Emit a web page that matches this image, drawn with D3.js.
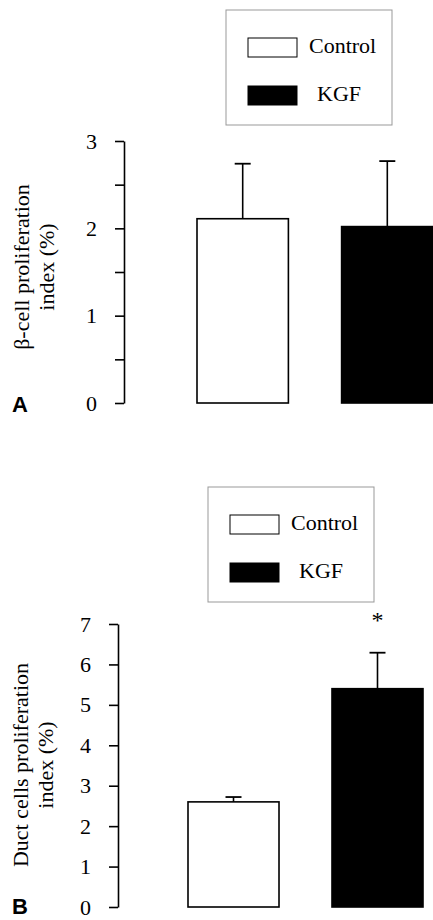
<html>
<head>
<meta charset="utf-8"/>
<script src="https://d3js.org/d3.v7.min.js"></script>
<style type="text/css">
body {
  margin: 0;
  overflow: hidden;
  background: #fff;
}
text {
  font-family: "Liberation Serif", "Times New Roman", serif;
  fill: #000;
}
.panel-letter {
  font-family: "Liberation Sans", Arial, sans-serif;
  font-weight: bold;
}
</style>
</head>
<body>
<div id="v"></div>
<script type="text/javascript">
// data
var groups = ["Control", "KGF"];
var betaMeans = [2.11, 2.02];
var betaSem = [0.63, 0.75];
var ductMeans = [2.6, 5.4];
var ductSem = [0.12, 0.89];
var ductSignificant = [false, true];
var betaTicks = [0, 0.5, 1, 1.5, 2, 2.5, 3];
var ductTicks = [0, 1, 2, 3, 4, 5, 6, 7];
var fills = {"Control": "#fff", "KGF": "#000"};

var width = 433;
var height = 920;

var svg = d3.select("#v").append("svg")
  .attr("width", width)
  .attr("height", height);

function drawPanel(opt) {
  var g = svg.append("g");

  var rows = opt.groups.map(function(d, i) {
    return {name: d, mean: opt.means[i], sem: opt.sem[i], star: opt.star ? opt.star[i] : false};
  });

  var x = d3.scaleBand()
    .domain(opt.groups)
    .range(opt.xRange)
    .paddingInner(0.368)
    .paddingOuter(0);

  var y = d3.scaleLinear()
    .domain(opt.yDomain)
    .range(opt.yRange);

  // axis
  var axis = d3.axisLeft(y)
    .tickValues(opt.ticks)
    .tickSize(9)
    .tickSizeOuter(0)
    .tickPadding(18)
    .tickFormat(function(d) { return d % 1 === 0 ? d : ""; });

  var ax = g.append("g")
    .attr("transform", "translate(" + opt.axisX + ",0)")
    .call(axis);
  ax.select(".domain").attr("stroke", "#000").attr("stroke-width", 1.6);
  ax.selectAll(".tick line").attr("stroke", "#000").attr("stroke-width", 1.6);
  ax.selectAll(".tick text")
    .attr("font-family", "Liberation Serif, Times New Roman, serif")
    .attr("font-size", 22)
    .attr("fill", "#000");

  // error bars (upper half only)
  var err = g.selectAll(".err")
    .data(rows).enter()
    .append("g")
    .attr("class", "err");
  err.append("line")
    .attr("x1", function(d) { return x(d.name) + x.bandwidth() / 2; })
    .attr("x2", function(d) { return x(d.name) + x.bandwidth() / 2; })
    .attr("y1", function(d) { return y(d.mean); })
    .attr("y2", function(d) { return y(d.mean + d.sem); })
    .attr("stroke", "#000")
    .attr("stroke-width", 1.6);
  err.append("line")
    .attr("x1", function(d) { return x(d.name) + x.bandwidth() / 2 - 8; })
    .attr("x2", function(d) { return x(d.name) + x.bandwidth() / 2 + 8; })
    .attr("y1", function(d) { return y(d.mean + d.sem); })
    .attr("y2", function(d) { return y(d.mean + d.sem); })
    .attr("stroke", "#000")
    .attr("stroke-width", 1.8);

  // bars
  g.selectAll(".bar")
    .data(rows).enter()
    .append("rect")
    .attr("class", "bar")
    .attr("x", function(d) { return x(d.name); })
    .attr("width", x.bandwidth())
    .attr("y", function(d) { return y(d.mean); })
    .attr("height", function(d) { return y(0) - y(d.mean); })
    .attr("fill", function(d) { return fills[d.name]; })
    .attr("stroke", "#000")
    .attr("stroke-width", 1.6);

  // significance star
  g.selectAll(".star")
    .data(rows.filter(function(d) { return d.star; })).enter()
    .append("text")
    .attr("class", "star")
    .attr("x", function(d) { return x(d.name) + x.bandwidth() / 2; })
    .attr("y", opt.starY)
    .attr("text-anchor", "middle")
    .attr("font-size", 24)
    .text("*");

  // y label, two lines
  opt.yLabel.forEach(function(line, i) {
    g.append("text")
      .attr("transform", "translate(" + (opt.labelX + i * 25) + "," + opt.labelY + ") rotate(-90)")
      .attr("text-anchor", "middle")
      .attr("font-size", 22)
      .text(line);
  });

  // panel letter
  g.append("text")
    .attr("class", "panel-letter")
    .attr("x", 12)
    .attr("y", opt.letterY)
    .attr("font-size", 22)
    .text(opt.letter);

  // legend
  var lg = g.append("g")
    .attr("transform", "translate(" + opt.legend[0] + "," + opt.legend[1] + ")");
  lg.append("rect")
    .attr("width", 166)
    .attr("height", 115)
    .attr("fill", "#fff")
    .attr("stroke", "#999")
    .attr("stroke-width", 1);
  var item = lg.selectAll(".item")
    .data(opt.groups).enter()
    .append("g")
    .attr("class", "item")
    .attr("transform", function(d, i) { return "translate(22," + (28 + i * 48) + ")"; });
  item.append("rect")
    .attr("width", 49)
    .attr("height", 19)
    .attr("fill", function(d) { return fills[d]; })
    .attr("stroke", "#000")
    .attr("stroke-width", 1);
  item.append("text")
    .attr("x", function(d, i) { return i === 0 ? 61 : 69; })
    .attr("y", 15)
    .attr("font-size", 22)
    .text(function(d) { return d; });
}

drawPanel({
  groups: groups,
  means: betaMeans,
  sem: betaSem,
  ticks: betaTicks,
  yDomain: [0, 3],
  yRange: [403, 141],
  xRange: [197, 433],
  axisX: 124,
  yLabel: ["\u03b2-cell proliferation", "index (%)"],
  labelX: 29,
  labelY: 267,
  letter: "A",
  letterY: 412,
  legend: [226, 10]
});

drawPanel({
  groups: groups,
  means: ductMeans,
  sem: ductSem,
  star: ductSignificant,
  starY: 628,
  ticks: ductTicks,
  yDomain: [0, 7],
  yRange: [907, 624],
  xRange: [188, 423],
  axisX: 118,
  yLabel: ["Duct cells proliferation", "index (%)"],
  labelX: 28,
  labelY: 765,
  letter: "B",
  letterY: 914,
  legend: [208, 487]
});
</script>
</body>
</html>
